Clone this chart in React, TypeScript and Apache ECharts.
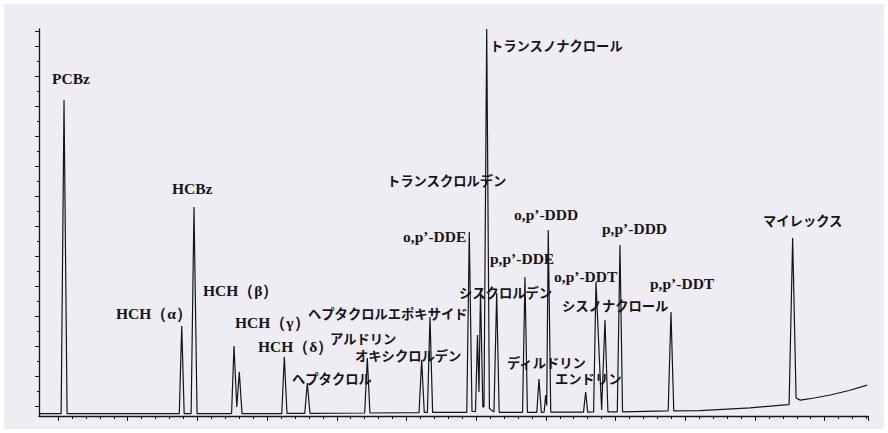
import React, { useEffect, useRef } from "react";
import * as echarts from "echarts";

// Chromatogram trace: [retention (major tick = 1), detector signal]
const tracePoints: [number, number][] = [
  [-0.273, 0.08],
  [0.045, 0.08], [0.086, 10.53], [0.13, 0.08],
  [1.74, 0.08], [1.775, 3.0], [1.81, 0.08],
  [1.91, 0.08], [1.951, 6.97], [1.995, 0.08],
  [2.49, 0.08], [2.525, 2.33], [2.565, 0.3], [2.601, 1.47], [2.64, 0.08],
  [3.21, 0.08], [3.247, 1.97], [3.285, 0.09],
  [3.54, 0.09], [3.577, 1.1], [3.615, 0.09],
  [4.4, 0.1], [4.438, 1.93], [4.475, 0.1],
  [5.18, 0.11], [5.218, 1.87], [5.255, 0.12],
  [5.3, 0.12], [5.337, 3.3], [5.375, 0.12],
  [5.865, 0.12], [5.901, 6.13], [5.94, 0.15],
  [5.99, 0.15], [6.019, 2.7], [6.04, 0.8], [6.062, 4.2], [6.095, 0.3],
  [6.112, 0.3], [6.151, 12.9], [6.19, 0.25],
  [6.255, 0.13], [6.294, 4.1], [6.33, 0.12],
  [6.665, 0.12], [6.7, 4.63], [6.735, 0.12],
  [6.87, 0.12], [6.901, 1.23], [6.935, 0.12],
  [6.975, 0.13], [6.997, 0.7], [7.012, 0.35], [7.034, 6.2], [7.07, 0.13],
  [7.54, 0.13], [7.571, 0.8], [7.6, 0.13],
  [7.685, 0.14], [7.719, 4.47], [7.8, 0.2], [7.848, 3.2], [7.89, 0.14],
  [8.025, 0.14], [8.063, 5.7], [8.1, 0.14],
  [8.755, 0.17], [8.795, 3.47], [8.835, 0.17],
  [9.21, 0.18], [9.93, 0.27], [10.43, 0.37],
  [10.49, 0.38], [10.541, 5.93], [10.59, 0.6],
  [10.65, 0.53], [10.85, 0.6], [11.08, 0.7], [11.35, 0.85], [11.61, 1.03],
];

// Peak labels and where they are written (pixels)
const latinLabels: [string, number, number][] = [
  ["PCBz", 52, 78],
  ["HCBz", 172, 188],
  ["HCH（α）", 116, 313],
  ["HCH（β）", 203, 290],
  ["HCH（γ）", 235, 322],
  ["HCH（δ）", 258, 346],
  ["o,p’-DDE", 403, 236],
  ["p,p’-DDE", 490, 258],
  ["o,p’-DDD", 514, 214],
  ["o,p’-DDT", 554, 276],
  ["p,p’-DDD", 602, 228],
  ["p,p’-DDT", 650, 283],
];
const japaneseLabels: [string, number, number][] = [
  ["ヘプタクロル", 292, 378],
  ["アルドリン", 330, 338],
  ["オキシクロルデン", 355, 355],
  ["ヘプタクロルエポキサイド", 308, 313],
  ["トランスクロルデン", 387, 180],
  ["トランスノナクロール", 490, 45],
  ["シスクロルデン", 459, 292],
  ["ディルドリン", 507, 362],
  ["エンドリン", 555, 378],
  ["シスノナクロール", 562, 305],
  ["マイレックス", 763, 220],
];

export default function App() {
  const ref = useRef<HTMLDivElement>(null);
  useEffect(() => {
    if (!ref.current) return;
    const chart = echarts.init(ref.current, undefined, { renderer: "svg" });
    const ink = "#151515";
    const graphics: any[] = [];
    latinLabels.forEach(([t, x, y]) =>
      graphics.push({
        type: "text",
        x,
        y,
        silent: true,
        style: {
          text: t,
          fill: ink,
          fontFamily: '"Liberation Serif", "DejaVu Serif", serif',
          fontWeight: "bold",
          fontSize: 15.5,
          verticalAlign: "middle",
        },
      })
    );
    japaneseLabels.forEach(([t, x, y]) =>
      graphics.push({
        type: "text",
        x,
        y,
        silent: true,
        style: {
          text: t,
          fill: ink,
          fontFamily: '"Noto Sans CJK JP", sans-serif',
          fontWeight: "bold",
          fontSize: 13.3,
          verticalAlign: "middle",
        },
      })
    );
    chart.setOption({
      animation: false,
      backgroundColor: "transparent",
      grid: [
        { left: 39, right: 20, top: 29, bottom: 17 },
        { left: 58, right: 20, top: 29, bottom: 17 },
        { left: 39, right: 20, top: 31.5, bottom: 26.5 },
      ],
      xAxis: [
        {
          gridIndex: 0,
          type: "value",
          min: -0.273,
          max: 11.622,
          axisLine: { show: true, onZero: false, lineStyle: { color: ink, width: 1.3 } },
          axisTick: { show: false },
          axisLabel: { show: false },
          splitLine: { show: false },
        },
        {
          gridIndex: 1,
          type: "value",
          min: 0,
          max: 11.622,
          interval: 1,
          axisLine: { show: false, onZero: false },
          axisTick: { show: true, length: 5, lineStyle: { color: ink, width: 1 } },
          minorTick: { show: true, splitNumber: 5, length: 3, lineStyle: { color: ink, width: 1 } },
          axisLabel: { show: false },
          splitLine: { show: false },
        },
        { gridIndex: 2, type: "value", show: false, min: 0, max: 1 },
      ],
      yAxis: [
        {
          gridIndex: 0,
          type: "value",
          min: 0,
          max: 12.9,
          axisLine: { show: true, onZero: false, lineStyle: { color: ink, width: 1.3 } },
          axisTick: { show: false },
          axisLabel: { show: false },
          splitLine: { show: false },
        },
        { gridIndex: 1, type: "value", show: false, min: 0, max: 1 },
        {
          gridIndex: 2,
          type: "value",
          min: 0,
          max: 12.5,
          interval: 1,
          axisLine: { show: false, onZero: false },
          axisTick: { show: true, length: 4, lineStyle: { color: ink, width: 1 } },
          minorTick: { show: true, splitNumber: 2, length: 2, lineStyle: { color: ink, width: 1 } },
          axisLabel: { show: false },
          splitLine: { show: false },
        },
      ],
      series: [
        {
          type: "line",
          name: "chromatogram",
          xAxisIndex: 0,
          yAxisIndex: 0,
          data: tracePoints,
          showSymbol: false,
          symbol: "none",
          silent: true,
          lineStyle: { color: ink, width: 1.2 },
        },
      ],
      graphic: graphics,
    });
    return () => chart.dispose();
  }, []);
  return (
    <div style={{ position: "fixed", left: 0, top: 0, width: 888, height: 433, background: "#ffffff" }}>
      <div style={{ position: "absolute", left: 4, top: 4, width: 880, height: 425, background: "#efedf4" }} />
      <div ref={ref} style={{ position: "absolute", left: 0, top: 0, width: 888, height: 433 }} />
    </div>
  );
}
